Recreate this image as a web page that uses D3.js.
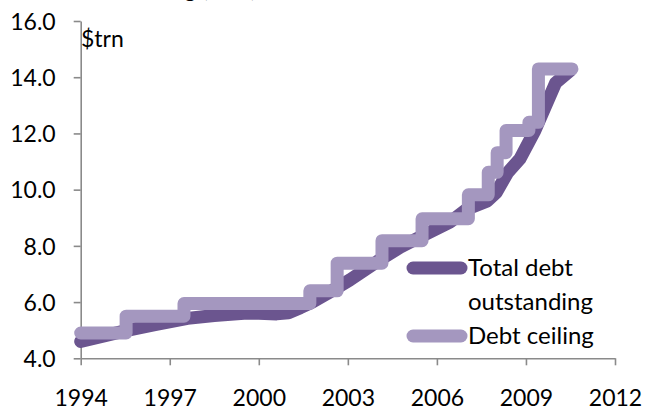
<!DOCTYPE html>
<html>
<head>
<meta charset="utf-8">
<script src="https://cdn.jsdelivr.net/npm/d3@7"></script>
<style>
  body { margin: 0; background: #fff; }
  text { font-family: Lato, 'Open Sans', sans-serif; fill: #000; }
</style>
</head>
<body>
<div id="chart"></div>
<script>
// values (decimal years, $trn)
let ceilingYears = [1994.0, 1995.53, 1997.48, 2001.72, 2002.64, 2004.15, 2005.5, 2007.06, 2007.73, 2008.03, 2008.33, 2009.1, 2009.42, 2010.55]
let ceilingValues = [4.9, 5.5, 5.95, 6.4, 7.384, 8.184, 8.965, 9.815, 10.615, 11.315, 12.104, 12.394, 14.294, 14.294]

let debtYears = [1994.0, 1995.0, 1995.6, 1996.5, 1997.6, 1998.5, 1999.5, 2000.0, 2000.6, 2001.0, 2001.4, 2001.8, 2002.3, 2003.07, 2004.0, 2004.76, 2005.5, 2006.45, 2007.0, 2007.7, 2008.0, 2008.38, 2008.8, 2009.3, 2010.0, 2010.5]
let debtValues = [4.6, 4.85, 5.0, 5.2, 5.42, 5.52, 5.6, 5.6, 5.58, 5.62, 5.8, 6.0, 6.3, 6.79, 7.45, 7.95, 8.35, 8.85, 9.3, 9.6, 9.9, 10.6, 11.1, 12.1, 13.8, 14.25]

let xTicks = [1994, 1997, 2000, 2003, 2006, 2009, 2012]
let yTicks = [4, 6, 8, 10, 12, 14, 16]

let title = 'Federal debt ceiling ($trn)'
let unit = '$trn'
let seriesNames = ['Total debt', 'outstanding', 'Debt ceiling']

let width = 646
let height = 410

let dark = '#6b558f'
let light = '#a497bf'
let axisGrey = '#8a8a8a'

let svg = d3
  .select('#chart')
  .append('svg')
  .attr('width', width)
  .attr('height', height)

let x = d3.scaleLinear().domain([1994, 2012]).range([80.7, 615])
let y = d3.scaleLinear().domain([4, 16]).range([358.3, 21])

// title, almost entirely cut off at the top of the picture
svg.append('text')
  .attr('x', 0)
  .attr('y', -3)
  .attr('font-size', '23px')
  .text(title)

let yAxis = svg.append('g')
  .attr('transform', 'translate(' + x(1994) + ',0)')
  .call(d3.axisLeft(y).tickValues(yTicks).tickFormat(d3.format('.1f')).tickSize(7).tickSizeOuter(0).tickPadding(18))

let xAxis = svg.append('g')
  .attr('transform', 'translate(0,' + y(4) + ')')
  .call(d3.axisBottom(x).tickValues(xTicks).tickFormat(d3.format('d')).tickSize(7).tickSizeOuter(0))

yAxis.selectAll('text').attr('font-size', '23px').attr('dy', '0.36em')
xAxis.selectAll('text').attr('font-size', '23px').attr('y', 48).attr('dy', null)
svg.selectAll('.domain, .tick line').attr('stroke', axisGrey).attr('stroke-width', 1.6)
svg.selectAll('.tick text').attr('fill', '#000').style('font-family', 'Lato, sans-serif')

svg.append('text')
  .attr('x', 81)
  .attr('y', 47)
  .attr('font-size', '23px')
  .text(unit)

let debtLine = d3.line()
  .x(function(d, i) { return x(debtYears[i]) })
  .y(function(d) { return y(d) })

let ceilingLine = d3.line()
  .x(function(d, i) { return x(ceilingYears[i]) })
  .y(function(d) { return y(d) })
  .curve(d3.curveStepAfter)

svg.append('path')
  .datum(debtValues)
  .attr('d', debtLine)
  .attr('fill', 'none')
  .attr('stroke', dark)
  .attr('stroke-width', 13)
  .attr('stroke-linejoin', 'round')
  .attr('stroke-linecap', 'round')

svg.append('path')
  .datum(ceilingValues)
  .attr('d', ceilingLine)
  .attr('fill', 'none')
  .attr('stroke', light)
  .attr('stroke-width', 13)
  .attr('stroke-linejoin', 'round')
  .attr('stroke-linecap', 'round')

// legend
let legend = svg.append('g')

legend.append('line')
  .attr('x1', 413).attr('x2', 461)
  .attr('y1', 268).attr('y2', 268)
  .attr('stroke', dark)
  .attr('stroke-width', 13)
  .attr('stroke-linecap', 'round')

legend.append('line')
  .attr('x1', 413).attr('x2', 461)
  .attr('y1', 336).attr('y2', 336)
  .attr('stroke', light)
  .attr('stroke-width', 13)
  .attr('stroke-linecap', 'round')

legend.append('text').attr('x', 468).attr('y', 276).attr('font-size', '24px').text(seriesNames[0])
legend.append('text').attr('x', 468).attr('y', 310).attr('font-size', '24px').text(seriesNames[1])
legend.append('text').attr('x', 468).attr('y', 344).attr('font-size', '24px').text(seriesNames[2])
</script>
</body>
</html>
